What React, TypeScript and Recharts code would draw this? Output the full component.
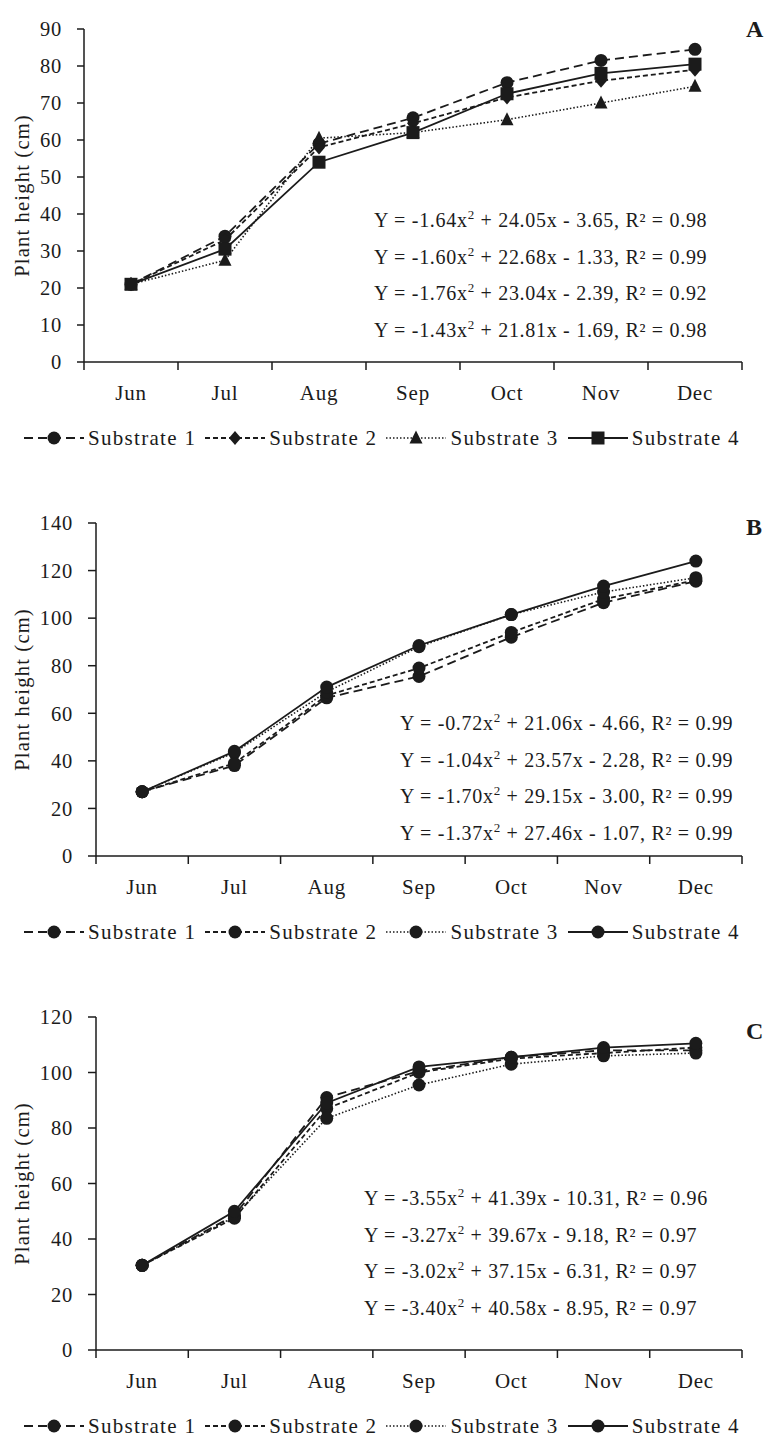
import React from "react";
import { LineChart, Line, XAxis, YAxis } from "recharts";

const INK = "#1b1b1b";
const FONT = "'Liberation Serif', 'Times New Roman', serif";

const months = ["Jun", "Jul", "Aug", "Sep", "Oct", "Nov", "Dec"];
const seriesNames = ["Substrate 1", "Substrate 2", "Substrate 3", "Substrate 4"];

// Panel A (cm)
const heightA1 = [21, 34, 59, 66, 75.5, 81.5, 84.5];
const heightA2 = [21, 33, 58, 64.5, 71.5, 76, 79];
const heightA3 = [21, 27.5, 60.5, 62, 65.5, 70, 74.5];
const heightA4 = [21, 30.5, 54, 62, 72.5, 78, 80.5];

// Panel B (cm)
const heightB1 = [27, 38, 66.5, 75.5, 92, 106.5, 115.5];
const heightB2 = [27, 39, 67.5, 79, 94, 108, 116];
const heightB3 = [27, 43.5, 69, 88, 101.5, 111, 117];
const heightB4 = [27, 44, 71, 88.5, 101.5, 113.5, 124];

// Panel C (cm)
const heightC1 = [30.5, 48.5, 91, 100.5, 105.5, 108, 108];
const heightC2 = [30.5, 47.5, 87, 100, 105, 107, 109];
const heightC3 = [30.5, 48, 83.5, 95.5, 103, 106, 107];
const heightC4 = [30.5, 50, 89, 102, 105.5, 109, 110.5];

const ticksA = [0, 10, 20, 30, 40, 50, 60, 70, 80, 90];
const ticksB = [0, 20, 40, 60, 80, 100, 120, 140];
const ticksC = [0, 20, 40, 60, 80, 100, 120];

// regression equations: [text before the superscript, text after]
const eqA = [
  ["Y = -1.64x", " + 24.05x - 3.65, R² = 0.98"],
  ["Y = -1.60x", " + 22.68x - 1.33, R² = 0.99"],
  ["Y = -1.76x", " + 23.04x - 2.39, R² = 0.92"],
  ["Y = -1.43x", " + 21.81x - 1.69, R² = 0.98"],
];
const eqB = [
  ["Y = -0.72x", " + 21.06x - 4.66, R² = 0.99"],
  ["Y = -1.04x", " + 23.57x - 2.28, R² = 0.99"],
  ["Y = -1.70x", " + 29.15x - 3.00, R² = 0.99"],
  ["Y = -1.37x", " + 27.46x - 1.07, R² = 0.99"],
];
const eqC = [
  ["Y = -3.55x", " + 41.39x - 10.31, R² = 0.96"],
  ["Y = -3.27x", " + 39.67x - 9.18, R² = 0.97"],
  ["Y = -3.02x", " + 37.15x - 6.31, R² = 0.97"],
  ["Y = -3.40x", " + 40.58x - 8.95, R² = 0.97"],
];

const dashes = ["9 5", "5 3", "1.5 2", undefined];
const widths = [1.8, 1.8, 1.6, 1.8];

const CHART_H = 420;
const TICK_X = 8;
const TICK_X_MARGIN = 15;

const xTicks = [-0.5, 0, 0.5, 1, 1.5, 2, 2.5, 3, 3.5, 4, 4.5, 5, 5.5, 6, 6.5];

type Shape = "circle" | "diamond" | "triangle" | "square";

const Marker = ({ shape, cx, cy }: { shape: Shape; cx: number; cy: number }) => {
  if (shape === "diamond")
    return (
      <polygon
        points={`${cx},${cy - 7} ${cx + 6},${cy} ${cx},${cy + 7} ${cx - 6},${cy}`}
        fill={INK}
      />
    );
  if (shape === "triangle")
    return (
      <polygon
        points={`${cx},${cy - 7.5} ${cx + 6.5},${cy + 5.5} ${cx - 6.5},${cy + 5.5}`}
        fill={INK}
      />
    );
  if (shape === "square")
    return <rect x={cx - 6.5} y={cy - 6.5} width={13} height={13} fill={INK} />;
  return <circle cx={cx} cy={cy} r={6.5} fill={INK} />;
};

const makeDot = (shape: Shape) => (props: any) => {
  const { cx, cy, index } = props;
  if (cx == null || cy == null) return <g key={`d-${index}`} />;
  return (
    <g key={`d-${index}`}>
      <Marker shape={shape} cx={cx} cy={cy} />
    </g>
  );
};

// month labels at integer positions, tick marks at the band edges
const XTick = (props: any) => {
  const { x, y, payload } = props;
  const v = payload.value as number;
  if (Number.isInteger(v)) {
    return (
      <text
        x={x}
        y={y}
        dy="0.71em"
        textAnchor="middle"
        fill={INK}
        style={{ fontFamily: FONT, fontSize: 21, letterSpacing: 0.8 }}
      >
        {months[v]}
      </text>
    );
  }
  const axisY = y - TICK_X_MARGIN - TICK_X;
  return <line x1={x} x2={x} y1={axisY} y2={axisY + TICK_X} stroke={INK} strokeWidth={1.5} />;
};

const LegendSample = ({ i, shape }: { i: number; shape: Shape }) => (
  <svg width={60} height={20} style={{ display: "block" }}>
    <line
      x1={0}
      x2={60}
      y1={10}
      y2={10}
      stroke={INK}
      strokeWidth={widths[i]}
      strokeDasharray={dashes[i]}
    />
    <Marker shape={shape} cx={30} cy={10} />
  </svg>
);

interface PanelProps {
  letter: string;
  top: number;
  series: number[][];
  shapes: Shape[];
  ticks: number[];
  axisWidth: number;
  yTickSize: number;
  eqs: string[][];
  eqLeft: number;
  eqTop: number;
  letterTop: number;
}

const Panel = (p: PanelProps) => {
  const data = months.map((m, i) => ({
    pos: i,
    month: m,
    s1: p.series[0][i],
    s2: p.series[1][i],
    s3: p.series[2][i],
    s4: p.series[3][i],
  }));
  const yMax = p.ticks[p.ticks.length - 1];
  return (
    <div style={{ position: "absolute", left: 0, top: p.top, width: 773, height: 494 }}>
      <LineChart
        width={773}
        height={CHART_H}
        data={data}
        margin={{ top: 29, right: 31, left: 0, bottom: 20 }}
      >
        <XAxis
          dataKey="pos"
          type="number"
          domain={[-0.5, 6.5]}
          ticks={xTicks}
          interval={0}
          height={38}
          tickLine={false}
          tickSize={TICK_X}
          tickMargin={TICK_X_MARGIN}
          tick={<XTick />}
          axisLine={{ stroke: INK, strokeWidth: 1.5 }}
        />
        <YAxis
          type="number"
          domain={[0, yMax]}
          ticks={p.ticks}
          interval={0}
          width={p.axisWidth}
          tickSize={p.yTickSize}
          tickMargin={15}
          axisLine={{ stroke: INK, strokeWidth: 1.5 }}
          tickLine={{ stroke: INK, strokeWidth: 1.5 }}
          tick={{ fill: INK, fontSize: 20.5, fontFamily: FONT, letterSpacing: 0.8 }}
          label={{
            value: "Plant height (cm)",
            angle: -90,
            position: "insideLeft",
            offset: 22,
            style: {
              textAnchor: "middle",
              fontSize: 20.5,
              fill: INK,
              fontFamily: FONT,
              letterSpacing: 1.2,
            },
          }}
        />
        {["s1", "s2", "s3", "s4"].map((k, i) => (
          <Line
            key={k}
            dataKey={k}
            name={seriesNames[i]}
            type="linear"
            stroke={INK}
            strokeWidth={widths[i]}
            strokeDasharray={dashes[i]}
            dot={makeDot(p.shapes[i])}
            activeDot={false}
            isAnimationActive={false}
          />
        ))}
      </LineChart>

      {p.eqs.map((e, i) => (
        <div
          key={i}
          style={{
            position: "absolute",
            left: p.eqLeft,
            top: p.eqTop + i * 36.5,
            fontFamily: FONT,
            fontSize: 20,
            letterSpacing: 0.7,
            color: INK,
            whiteSpace: "nowrap",
            lineHeight: "24px",
          }}
        >
          {e[0]}
          <span style={{ fontSize: 13, position: "relative", top: -8 }}>2</span>
          {e[1]}
        </div>
      ))}

      <div
        style={{
          position: "absolute",
          left: 746,
          top: p.letterTop,
          fontFamily: FONT,
          fontSize: 24,
          fontWeight: "bold",
          color: INK,
          lineHeight: "26px",
        }}
      >
        {p.letter}
      </div>

      <div
        style={{
          position: "absolute",
          left: 24,
          top: 426,
          display: "flex",
          alignItems: "center",
          fontFamily: FONT,
          fontSize: 21,
          letterSpacing: 1.3,
          color: INK,
          whiteSpace: "nowrap",
          lineHeight: "24px",
        }}
      >
        {seriesNames.map((n, i) => (
          <div key={n} style={{ display: "flex", alignItems: "center", marginRight: 9 }}>
            <LegendSample i={i} shape={p.shapes[i]} />
            <span style={{ marginLeft: 4 }}>{n}</span>
          </div>
        ))}
      </div>
    </div>
  );
};

const circles: Shape[] = ["circle", "circle", "circle", "circle"];

export default function App() {
  return (
    <div
      style={{
        position: "relative",
        width: 773,
        height: 1442,
        margin: "-8px 0 0 -8px",
        background: "#fff",
        overflow: "hidden",
      }}
    >
      <Panel
        letter="A"
        top={0}
        series={[heightA1, heightA2, heightA3, heightA4]}
        shapes={["circle", "diamond", "triangle", "square"]}
        ticks={ticksA}
        axisWidth={84}
        yTickSize={7}
        eqs={eqA}
        eqLeft={374}
        eqTop={208}
        letterTop={16}
      />
      <Panel
        letter="B"
        top={494}
        series={[heightB1, heightB2, heightB3, heightB4]}
        shapes={circles}
        ticks={ticksB}
        axisWidth={96}
        yTickSize={8}
        eqs={eqB}
        eqLeft={400}
        eqTop={217}
        letterTop={20}
      />
      <Panel
        letter="C"
        top={988}
        series={[heightC1, heightC2, heightC3, heightC4]}
        shapes={circles}
        ticks={ticksC}
        axisWidth={96}
        yTickSize={8}
        eqs={eqC}
        eqLeft={364}
        eqTop={198}
        letterTop={30}
      />
    </div>
  );
}
